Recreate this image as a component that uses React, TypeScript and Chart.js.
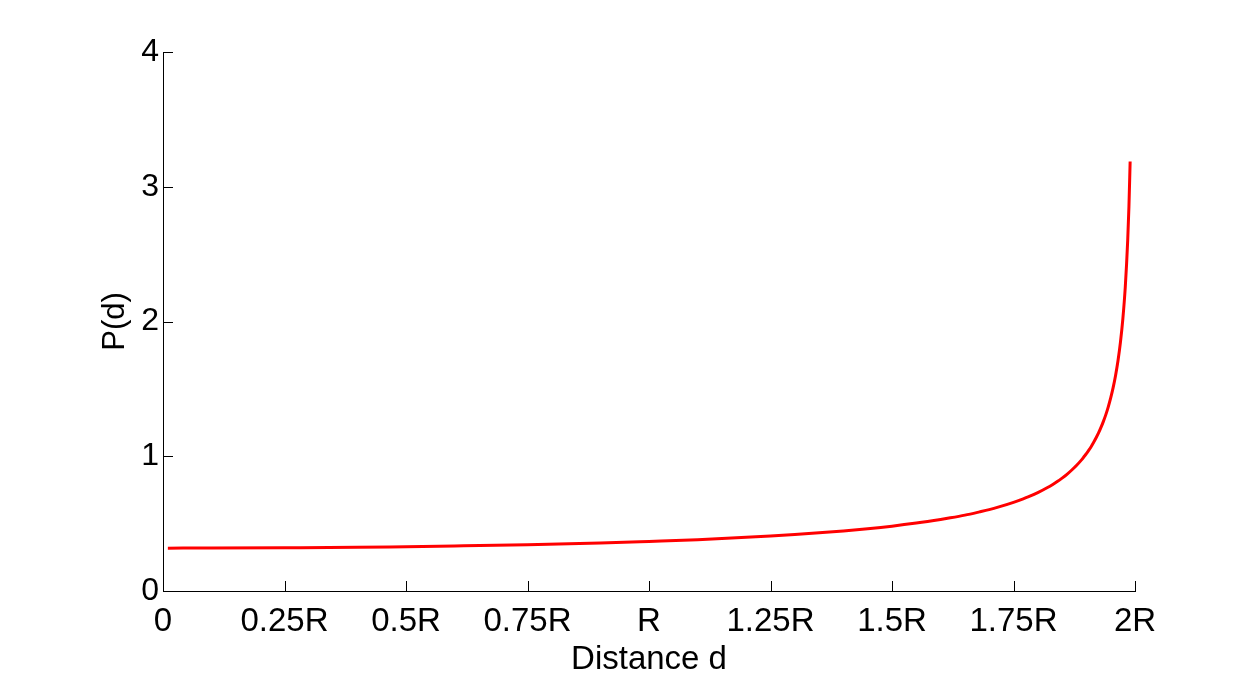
import React, { useEffect, useRef } from "react";
import { Chart, registerables } from "chart.js";

Chart.register(...registerables);

// Distance d in units of R
const distances = [
  0.01, 0.1, 0.25, 0.4, 0.5, 0.6, 0.75, 0.9, 1.0, 1.1, 1.25, 1.3, 1.4, 1.45, 1.5, 1.55, 1.6, 1.62, 1.65, 1.68,
  1.7, 1.72, 1.75, 1.77, 1.78, 1.8, 1.82, 1.83, 1.84, 1.85, 1.86, 1.87, 1.88, 1.89, 1.895, 1.9, 1.905, 1.91,
  1.915, 1.92, 1.925, 1.93, 1.935, 1.94, 1.945, 1.95, 1.955, 1.96, 1.965, 1.97, 1.975, 1.98, 1.985, 1.9875,
  1.99,
];
const probability = [
  0.318, 0.319, 0.321, 0.324, 0.329, 0.334, 0.343, 0.356, 0.368, 0.381, 0.408, 0.419, 0.446, 0.462, 0.481,
  0.504, 0.531, 0.543, 0.563, 0.587, 0.604, 0.624, 0.658, 0.684, 0.698, 0.730, 0.768, 0.789, 0.812, 0.838,
  0.866, 0.898, 0.933, 0.973, 0.996, 1.019, 1.045, 1.073, 1.104, 1.137, 1.173, 1.214, 1.259, 1.309, 1.367,
  1.433, 1.509, 1.6, 1.709, 1.845, 2.02, 2.256, 2.604, 2.851, 3.187,
];
const xTickValues = [0, 0.25, 0.5, 0.75, 1, 1.25, 1.5, 1.75, 2];
const xTickLabels = ["0", "0.25R", "0.5R", "0.75R", "R", "1.25R", "1.5R", "1.75R", "2R"];
const yTickValues = [0, 1, 2, 3, 4];
const xTitle = "Distance d";
const yTitle = "P(d)";

const FONT = "'Liberation Sans', Arial, Helvetica, sans-serif";

const inwardTicks = {
  id: "inwardTicks",
  afterDraw(chart: any) {
    const { ctx, chartArea, scales } = chart;
    const len = 10;
    ctx.save();
    ctx.strokeStyle = "#000";
    ctx.lineWidth = 1;
    ctx.beginPath();
    for (const v of xTickValues) {
      const x = Math.round(scales.x.getPixelForValue(v)) + 0.5;
      ctx.moveTo(x, chartArea.bottom);
      ctx.lineTo(x, chartArea.bottom - len);
    }
    for (const v of yTickValues) {
      const y = Math.round(scales.y.getPixelForValue(v)) + 0.5;
      ctx.moveTo(chartArea.left, y);
      ctx.lineTo(chartArea.left + len, y);
    }
    ctx.stroke();
    ctx.restore();
  },
};

export default function App() {
  const ref = useRef<HTMLCanvasElement>(null);
  useEffect(() => {
    if (!ref.current) return;
    const chart = new Chart(ref.current, {
      type: "scatter",
      data: {
        datasets: [
          {
            data: distances.map((d, i) => ({ x: d, y: probability[i] })),
            showLine: true,
            borderColor: "#ff0000",
            backgroundColor: "#ff0000",
            borderWidth: 3,
            pointRadius: 0,
            cubicInterpolationMode: "monotone",
          },
        ],
      },
      options: {
        animation: false,
        responsive: true,
        maintainAspectRatio: false,
        layout: { padding: { top: 52, right: 119, left: 0, bottom: 0 } },
        plugins: { legend: { display: false }, tooltip: { enabled: false } },
        scales: {
          x: {
            type: "linear",
            min: 0,
            max: 2,
            afterBuildTicks(scale: any) {
              scale.ticks = xTickValues.map((v) => ({ value: v }));
            },
            afterFit(scale: any) {
              scale.height = 91;
            },
            grid: { display: false, drawTicks: false },
            border: { display: true, color: "#000", width: 1 },
            ticks: {
              color: "#000",
              font: { family: FONT, size: 33 },
              padding: 11,
              maxRotation: 0,
              autoSkip: false,
              callback: (v: any) => {
                const i = xTickValues.indexOf(Number(v));
                return i >= 0 ? xTickLabels[i] : "";
              },
            },
            title: {
              display: true,
              text: xTitle,
              color: "#000",
              font: { family: FONT, size: 33 },
              padding: { top: 0, bottom: 2 },
            },
          },
          y: {
            type: "linear",
            min: 0,
            max: 4,
            afterBuildTicks(scale: any) {
              scale.ticks = yTickValues.map((v) => ({ value: v }));
            },
            afterFit(scale: any) {
              scale.width = 163;
            },
            grid: { display: false, drawTicks: false },
            border: { display: true, color: "#000", width: 1 },
            ticks: {
              color: "#000",
              font: { family: FONT, size: 32 },
              padding: 4,
              autoSkip: false,
            },
            title: {
              display: true,
              text: yTitle,
              color: "#000",
              font: { family: FONT, size: 31 },
              padding: { top: 97, bottom: 0 },
            },
          },
        },
      },
      plugins: [inwardTicks],
    });
    return () => chart.destroy();
  }, []);
  return (
    <div style={{ position: "fixed", left: 0, top: 0, width: 1254, height: 682, background: "#fff" }}>
      <canvas ref={ref} />
    </div>
  );
}
